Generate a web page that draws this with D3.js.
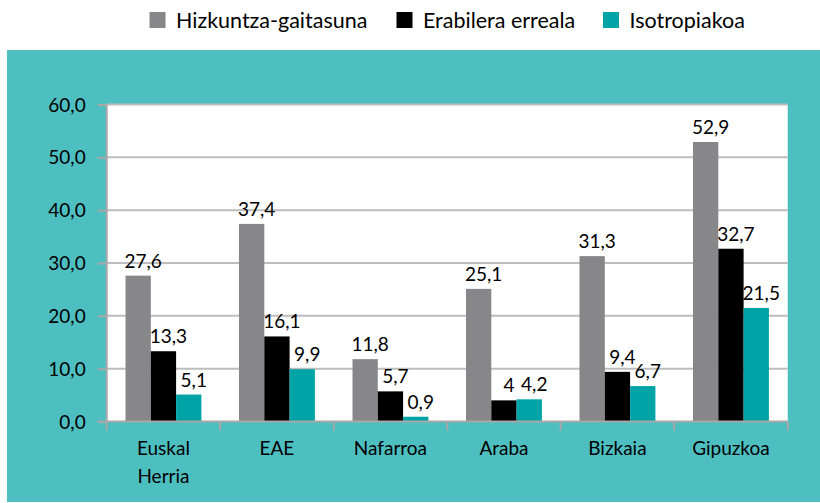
<!DOCTYPE html>
<html><head><meta charset="utf-8">
<script src="https://cdn.jsdelivr.net/npm/d3@7"></script>
<style>html,body{margin:0;padding:0;background:#fff}svg{display:block}text{font-family:Lato,"Noto Sans",sans-serif}</style>
</head><body><div id="chart"></div>
<script>
const categories = [["Euskal","Herria"],["EAE"],["Nafarroa"],["Araba"],["Bizkaia"],["Gipuzkoa"]];
const seriesNames = ["Hizkuntza-gaitasuna","Erabilera erreala","Isotropiakoa"];
const hizkuntzaGaitasuna = [27.6, 37.4, 11.8, 25.1, 31.3, 52.9];
const erabileraErreala = [13.3, 16.1, 5.7, 4, 9.4, 32.7];
const isotropiakoa = [5.1, 9.9, 0.9, 4.2, 6.7, 21.5];
const valueLabels = [
  ["27,6","37,4","11,8","25,1","31,3","52,9"],
  ["13,3","16,1","5,7","4","9,4","32,7"],
  ["5,1","9,9","0,9","4,2","6,7","21,5"]
];
const yTicks = [0,10,20,30,40,50,60];
const yTickLabels = ["0,0","10,0","20,0","30,0","40,0","50,0","60,0"];
const colors = ["#878789","#000000","#00a4a6"];

(function () {
const series = [hizkuntzaGaitasuna, erabileraErreala, isotropiakoa];
const W = 820, H = 503;
const svg = d3.select("#chart").append("svg").attr("width", W).attr("height", H);
svg.append("rect").attr("width", W).attr("height", H).attr("fill", "#fff");
svg.append("rect").attr("x", 7).attr("y", 50).attr("width", W - 7).attr("height", 452).attr("fill", "#4ebfc0");

const pL = 106.7, pR = 787.7, pT = 104.5, pB = 421.5;
const x = d3.scaleBand().domain(d3.range(categories.length)).range([pL, pR]).paddingInner(0).paddingOuter(0);
const xi = d3.scaleBand().domain(d3.range(series.length)).range([0, x.bandwidth()]).paddingOuter(0.743).paddingInner(0);
const y = d3.scaleLinear().domain([0, 60]).range([pB, pT]);

svg.append("rect").attr("x", pL).attr("y", pT).attr("width", pR - pL).attr("height", pB - pT).attr("fill", "#fff");

// gridlines
svg.append("g").selectAll("line").data(yTicks.filter(d => d > 0)).join("line")
  .attr("x1", pL).attr("x2", pR).attr("y1", d => y(d)).attr("y2", d => y(d))
  .attr("stroke", "#bdbdbd").attr("stroke-width", 2);

// y axis
const yAxis = d3.axisLeft(y).tickValues(yTicks).tickFormat((d, i) => yTickLabels[i]).tickSize(9).tickPadding(12);
const gy = svg.append("g").attr("transform", `translate(${pL},0)`).call(yAxis);
gy.select(".domain").attr("stroke", "#a8a8a8").attr("stroke-width", 2).attr("d", `M0,${pT}V${pB}`);
gy.selectAll(".tick line").attr("stroke", "#a8a8a8").attr("stroke-width", 2);
gy.selectAll(".tick text").attr("fill", "#000").style("font-size", "19px").style("font-family", "Lato").attr("dy", "0.35em");

// bars
const groups = svg.append("g").selectAll("g").data(series).join("g").attr("fill", (d, i) => colors[i]);
groups.each(function (vals, si) {
  d3.select(this).selectAll("rect").data(vals).join("rect")
    .attr("x", (d, ci) => x(ci) + xi(si))
    .attr("width", xi.bandwidth())
    .attr("y", d => y(d))
    .attr("height", d => pB - y(d));
});

// value labels
series.forEach((vals, si) => {
  svg.append("g").selectAll("text").data(vals).join("text")
    .attr("x", (d, ci) => x(ci) + xi(si) + xi.bandwidth() / 2 + 5)
    .attr("y", d => y(d) - 8)
    .attr("text-anchor", "middle")
    .style("font-size", "19px").attr("fill", "#000")
    .text((d, ci) => valueLabels[si][ci]);
});

// x axis
const gx = svg.append("g");
gx.append("line").attr("x1", pL - 9).attr("x2", pR).attr("y1", pB).attr("y2", pB).attr("stroke", "#a8a8a8").attr("stroke-width", 2);
gx.selectAll("line.t").data(d3.range(categories.length + 1)).join("line").attr("class", "t")
  .attr("x1", i => pL + i * x.step()).attr("x2", i => pL + i * x.step())
  .attr("y1", pB).attr("y2", pB + 9).attr("stroke", "#a8a8a8").attr("stroke-width", 2);
gx.selectAll("text").data(categories).join("text")
  .attr("x", (d, i) => x(i) + x.bandwidth() / 2).attr("y", 455)
  .attr("text-anchor", "middle").style("font-size", "19px").attr("fill", "#000")
  .each(function (d) {
    d.forEach((line, k) => d3.select(this).append("tspan").attr("x", d3.select(this).attr("x")).attr("dy", k === 0 ? 0 : 28).text(line));
  });

// legend
const legendX = [149.5, 396.5, 603];
const lg = svg.append("g").selectAll("g").data(seriesNames).join("g").attr("transform", (d, i) => `translate(${legendX[i]},0)`);
lg.append("rect").attr("x", 0).attr("y", 12).attr("width", 16).attr("height", 16).attr("fill", (d, i) => colors[i]);
lg.append("text").attr("x", 26.5).attr("y", 27.5).style("font-size", "21.5px").attr("fill", "#000").text(d => d);
})();
</script></body></html>
